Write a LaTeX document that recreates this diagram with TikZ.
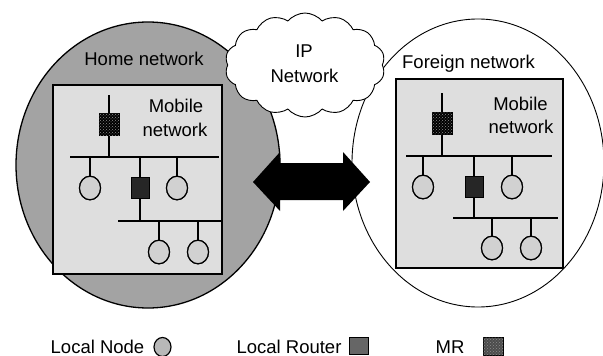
\documentclass[tikz,border=0pt]{standalone}
\usepackage{fontspec}
\setmainfont{Liberation Sans}
\usetikzlibrary{shapes.symbols,patterns}
\begin{document}
\begin{tikzpicture}[x=1pt,y=-1pt,
  txt/.style={inner sep=0pt, anchor=base, font=\fontsize{18.5}{22}\selectfont},
  lnode/.style={draw=black, line width=1.2pt, fill=black!18, ellipse-ish},
  ellipse-ish/.style={circle, inner sep=0pt, minimum size=21pt, yscale=1.12},
  router/.style={draw=black, fill=black!85, inner sep=0pt, minimum width=18pt, minimum height=21pt},
  mrbox/.style={draw=black, fill=black, inner sep=0pt, minimum width=20pt, minimum height=22pt,
     postaction={pattern=crosshatch dots, pattern color=black!45}},
  bus/.style={line width=2pt},
  drop/.style={line width=1.3pt},
  netbox/.style={draw=black, line width=1.4pt, fill=black!13}]
\useasboundingbox (0,0) rectangle (603,356);

% home and foreign areas
\draw[line width=1.3pt, fill=black!36] (148,165) ellipse [x radius=132, y radius=143];
\draw[line width=0.9pt, fill=white] (478,163) ellipse [x radius=126, y radius=144];

% network boxes
\draw[netbox] (53,85) rectangle (222,274);
\draw[netbox] (396,79) rectangle (563,268);

% titles
\node[txt] (homet) at (144,65) {Home network};
\node[txt] (fort) at (468.5,68) {Foreign network};
\node[txt] (hmob1) at (176,112) {Mobile};
\node[txt] (hmob2) at (175,136) {network};
\node[txt] (fmob1) at (520.5,110) {Mobile};
\node[txt] (fmob2) at (521,133) {network};

% ---------- home mobile network
\coordinate (hTop) at (109,95);
\coordinate (hB1L) at (70,157);
\coordinate (hB1R) at (219,157);
\coordinate (hB2L) at (118,221);
\coordinate (hB2R) at (222,221);
\node[lnode] (hn1) at (90,188) {};
\node[router] (hr) at (140,188) {};
\node[lnode] (hn2) at (177,188) {};
\node[lnode] (hn3) at (159,252) {};
\node[lnode] (hn4) at (198,252) {};
\draw[bus] (hB1L) -- (hB1R);
\draw[bus] (hB2L) -- (hB2R);
\draw[drop] (hTop) -- (hTop |- hB1L);
\draw[drop] (hn1) -- (hn1 |- hB1L);
\draw[drop] (hr.north) -- (hr.north |- hB1L);
\draw[drop] (hr.south) -- (hr.south |- hB2L);
\draw[drop] (hn2) -- (hn2 |- hB1L);
\draw[drop] (hn3) -- (hn3 |- hB2L);
\draw[drop] (hn4) -- (hn4 |- hB2L);
\node[lnode] at (hn1) {};
\node[lnode] at (hn2) {};
\node[lnode] at (hn3) {};
\node[lnode] at (hn4) {};
\node[mrbox] (hmr) at (109,124) {};

% ---------- foreign mobile network
\coordinate (fTop) at (442,93);
\coordinate (fB1L) at (406,156);
\coordinate (fB1R) at (552,156);
\coordinate (fB2L) at (453,218);
\coordinate (fB2R) at (558,218);
\node[lnode] (fn1) at (423,187) {};
\node[router] (fr) at (474,187) {};
\node[lnode] (fn2) at (512,187) {};
\node[lnode] (fn3) at (492,248) {};
\node[lnode] (fn4) at (531,248) {};
\draw[bus] (fB1L) -- (fB1R);
\draw[bus] (fB2L) -- (fB2R);
\draw[drop] (fTop) -- (fTop |- fB1L);
\draw[drop] (fn1) -- (fn1 |- fB1L);
\draw[drop] (fr.north) -- (fr.north |- fB1L);
\draw[drop] (fr.south) -- (fr.south |- fB2L);
\draw[drop] (fn2) -- (fn2 |- fB1L);
\draw[drop] (fn3) -- (fn3 |- fB2L);
\draw[drop] (fn4) -- (fn4 |- fB2L);
\node[lnode] at (fn1) {};
\node[lnode] at (fn2) {};
\node[lnode] at (fn3) {};
\node[lnode] at (fn4) {};
\node[mrbox] (fmr) at (442,123) {};

% ---------- IP cloud
\node[cloud, draw=black, line width=0.9pt, fill=white, cloud puffs=14, cloud puff arc=100,
      cloud ignores aspect, minimum width=160pt, minimum height=104pt] (cloud) at (305,65) {};
\node[txt] (ip1) at (304,57) {IP};
\node[txt] (ip2) at (304.5,82) {Network};

% ---------- double arrow
\fill[black] (253,182) -- (280,152) -- (280,163) -- (343,163) -- (343,152) -- (370,182)
   -- (343,211) -- (343,200) -- (280,200) -- (280,211) -- cycle;

% ---------- legend
\node[txt] (l1) at (97.5,353) {Local Node};
\node[lnode, fill=black!28, minimum size=17pt, yscale=1] (l1i) at (162.5,347) {};
\node[txt] (l2) at (289,353) {Local Router};
\node[router, fill=black!60, minimum width=19pt, minimum height=17pt] (l2i) at (358.5,345.5) {};
\node[txt] (l3) at (450,353) {MR};
\node[mrbox, fill=black!70, minimum width=20pt, minimum height=18pt] (l3i) at (493,346) {};
\end{tikzpicture}
\end{document}
